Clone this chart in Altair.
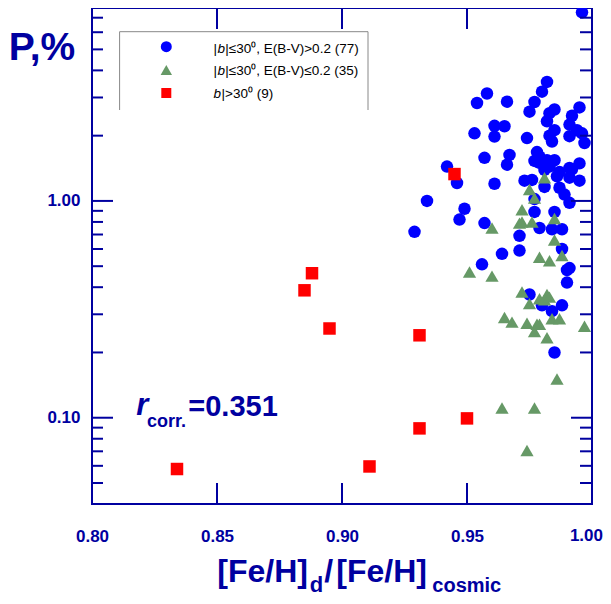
import altair as alt
import pandas as pd

# ---- data ----
blue_x = [0.996, 0.982, 0.980, 0.958, 0.954, 0.966, 0.977, 0.975, 0.985, 0.983,
          0.995, 0.992, 0.982, 0.991, 0.961, 0.965, 0.985, 0.994, 0.996, 0.991,
          0.953, 0.961, 0.974, 0.984, 0.997, 0.978, 0.957, 0.967, 0.966, 0.977,
          0.982, 0.985, 0.983, 0.981, 0.995, 0.991, 0.987, 0.995, 0.991, 0.942,
          0.946, 0.961, 0.973, 0.981, 0.987, 0.989, 0.991, 0.977, 0.934, 0.949,
          0.947, 0.929, 0.957, 0.977, 0.985, 0.979, 0.984, 0.988, 0.971, 0.971,
          0.964, 0.988, 0.956, 0.990, 0.991, 0.990, 0.975, 0.980, 0.984, 0.988,
          0.985, 0.979, 0.986, 0.983, 0.976, 0.992, 0.979]
blue_y = [7.41, 3.54, 3.19, 3.13, 2.83, 2.87, 2.86, 2.58, 2.64, 2.54,
          2.70, 2.47, 2.33, 2.25, 2.22, 2.21, 2.12, 2.12, 2.05, 1.99,
          2.05, 1.98, 1.95, 1.88, 1.85, 1.68, 1.58, 1.63, 1.47, 1.53,
          1.54, 1.54, 1.44, 1.39, 1.49, 1.42, 1.36, 1.24, 1.28, 1.44,
          1.21, 1.20, 1.24, 1.16, 1.15, 1.07, 0.98, 1.02, 1.00, 0.92,
          0.82, 0.72, 0.79, 0.89, 0.89, 0.75, 0.74, 0.74, 0.69, 0.59,
          0.57, 0.60, 0.51, 0.48, 0.49, 0.42, 0.37, 0.33, 0.31, 0.33,
          0.20, 1.50, 1.30, 2.00, 1.25, 1.40, 1.60]

green_x = [0.981, 0.975, 0.977, 0.972, 0.971, 0.976, 0.985, 0.960, 0.985, 0.979,
           0.983, 0.988, 0.951, 0.960, 0.972, 0.982, 0.979, 0.981, 0.975, 0.965,
           0.968, 0.974, 0.979, 0.977, 0.984, 0.987, 0.997, 0.982, 0.986, 0.964,
           0.977, 0.974, 0.972, 0.978, 0.983]
green_y = [1.28, 1.13, 1.03, 0.91, 0.79, 0.80, 0.83, 0.75, 0.66, 0.55,
           0.53, 0.56, 0.47, 0.45, 0.38, 0.37, 0.354, 0.35, 0.336, 0.29,
           0.276, 0.273, 0.27, 0.25, 0.286, 0.286, 0.264, 0.234, 0.151, 0.111,
           0.111, 0.0706, 0.80, 0.27, 0.36]

red_x = [0.945, 0.888, 0.885, 0.895, 0.931, 0.931, 0.950, 0.911, 0.834]
red_y = [1.33, 0.464, 0.387, 0.258, 0.240, 0.0893, 0.0993, 0.0596, 0.0580]

x_ticks = [0.80, 0.85, 0.90, 0.95]
x_last_tick = [1.00]
x_inner_ticks = [0.85, 0.90, 0.95]
y_labels = [0.10, 1.00]
y_minor = [0.05, 0.06, 0.07, 0.08, 0.09, 0.2, 0.3, 0.4, 0.5, 0.6, 0.7, 0.8, 0.9,
           2, 3, 4, 5, 6, 7]

# ---- styles ----
W, H = 500, 496
FONT = "Liberation Sans"
NAVY = "#0000a0"
BLUE = "#0000ff"
GREEN = "#669966"
RED = "#ff0000"

xscale = alt.Scale(domain=[0.80, 1.00], zero=False, nice=False)
yscale = alt.Scale(type="log", domain=[0.04, 7.76], nice=False)

XAX = alt.Axis(values=x_ticks, format=".2f", title=None, grid=False, domain=False,
               ticks=False, labelPadding=24, labelFont=FONT, labelFontSize=17,
               labelFontWeight="bold", labelColor=NAVY, labelFlush=False)
YAX = alt.Axis(values=y_labels, format=".2f", title=None, grid=False, domain=False,
               ticks=False, labelPadding=12, labelFont=FONT, labelFontSize=17,
               labelFontWeight="bold", labelColor=NAVY)

one = pd.DataFrame({"a": [0]})


def pts(xs, ys, shape, color, size):
    df = pd.DataFrame({"x": xs, "y": ys})
    return alt.Chart(df).mark_point(filled=True, opacity=1, shape=shape, size=size,
                                    color=color, strokeWidth=0).encode(
        x=alt.X("x:Q", scale=xscale, axis=XAX),
        y=alt.Y("y:Q", scale=yscale, axis=YAX),
    )


def xtick_rules(vals, y0, y1):
    return alt.Chart(pd.DataFrame({"x": vals})).mark_rule(color=NAVY, strokeWidth=2).encode(
        x=alt.X("x:Q", scale=xscale, axis=XAX), y=alt.value(y0), y2=alt.value(y1))


def ytick_rules(vals, x0, x1):
    return alt.Chart(pd.DataFrame({"y": vals})).mark_rule(color=NAVY, strokeWidth=2).encode(
        y=alt.Y("y:Q", scale=yscale, axis=YAX), x=alt.value(x0), x2=alt.value(x1))


def txt(s, x, y, size, color, weight="bold", style="normal"):
    return alt.Chart(one).mark_text(text=s, align="left", baseline="alphabetic", font=FONT,
                                    fontSize=size, fontWeight=weight, fontStyle=style,
                                    color=color).encode(x=alt.value(x), y=alt.value(y))


def line(x0, y0, x1, y1):
    return alt.Chart(one).mark_rule(color="#888888", strokeWidth=1).encode(
        x=alt.value(x0), y=alt.value(y0), x2=alt.value(x1), y2=alt.value(y1))


def sym(x, y, shape, color, size):
    return alt.Chart(one).mark_point(filled=True, opacity=1, shape=shape, size=size,
                                     color=color, strokeWidth=0).encode(
        x=alt.value(x), y=alt.value(y))


# last x tick label, nudged so it stays inside the page
last_label = alt.Chart(pd.DataFrame({"x": x_last_tick})).mark_text(
    align="right", baseline="alphabetic", font=FONT, fontSize=17, fontWeight="bold",
    color=NAVY, dx=11).encode(
    x=alt.X("x:Q", scale=xscale, axis=XAX), y=alt.value(533),
    text=alt.Text("x:Q", format=".2f"))

layers = [
    # data (carries the axes)
    pts(blue_x, blue_y, "circle", BLUE, 156),
    pts(green_x, green_y, "triangle-up", GREEN, 175),
    pts(red_x, red_y, "square", RED, 156),
    # inward ticks
    xtick_rules(x_inner_ticks, H, H - 21),
    xtick_rules(x_inner_ticks, 0, 21),
    ytick_rules(y_labels, 0, 21),
    ytick_rules(y_labels, W - 21, W),
    ytick_rules(y_minor, 0, 11),
    ytick_rules(y_minor, W - 12, W),
    last_label,
    # legend box
    line(27.6, 23.7, 276, 23.7),
    line(27.6, 23.7, 27.6, 102),
    line(276, 23.7, 276, 102),
    sym(74.3, 38.7, "circle", BLUE, 121),
    sym(74.3, 62, "triangle-up", GREEN, 130),
    sym(74.3, 85, "square", RED, 100),
    # legend text
    txt("|", 121.6, 45.3, 13.5, "black", weight="normal"),
    txt("b", 125.4, 45.3, 13.5, "black", weight="normal", style="italic"),
    txt("|≤30⁰, E(B-V)>0.2 (77)", 133.3, 45.3, 13.5, "black", weight="normal"),
    txt("|", 121.6, 67, 13.5, "black", weight="normal"),
    txt("b", 125.4, 67, 13.5, "black", weight="normal", style="italic"),
    txt("|≤30⁰, E(B-V)≤0.2 (35)", 133.3, 67, 13.5, "black", weight="normal"),
    txt("b", 121.6, 90.3, 13.5, "black", weight="normal", style="italic"),
    txt("|>30⁰ (9)", 129.5, 90.3, 13.5, "black", weight="normal"),
    # y title
    txt("P,%", -83.2, 52, 39, NAVY),
    # correlation
    txt("r", 44.3, 407, 31, NAVY, style="italic"),
    txt("corr.", 55, 418.7, 18, NAVY),
    txt("=0.351", 96.3, 408, 29, NAVY),
    # x title
    txt("[Fe/H]", 125.3, 574, 32, NAVY),
    txt("d", 217.8, 584, 22, NAVY),
    txt("/", 232.3, 574, 32, NAVY),
    txt("[Fe/H]", 244.3, 574, 32, NAVY),
    txt("cosmic", 340.3, 584, 20, NAVY),
]

chart = alt.layer(*layers).properties(
    width=W, height=H,
    autosize=alt.AutoSizeParams(type="none"),
    padding={"left": 84, "top": 0, "right": 11, "bottom": 92},
).configure_view(stroke=NAVY, strokeWidth=2)

chart.save("out.html", embed_options={"renderer": "svg", "actions": False})
